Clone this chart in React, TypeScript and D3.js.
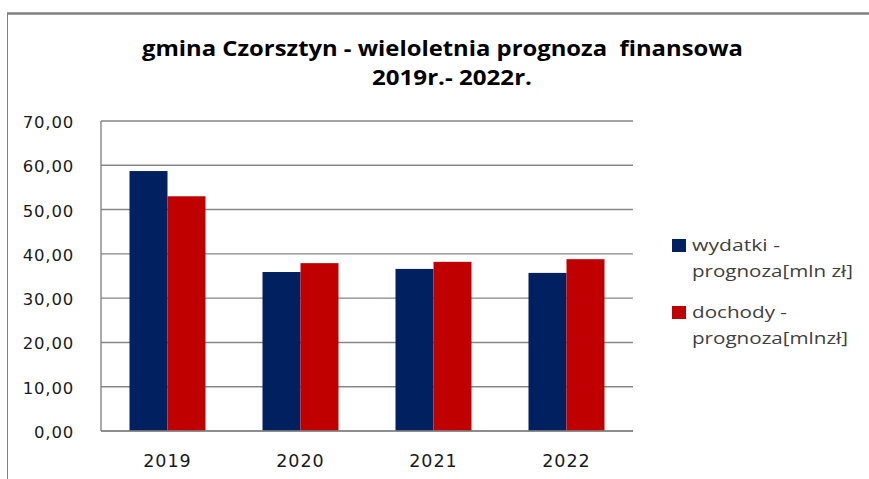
import React from "react";
import * as d3 from "d3";

const categories = ["2019", "2020", "2021", "2022"];
const wydatki = [58.7, 35.9, 36.6, 35.7];
const dochody = [53.0, 37.9, 38.2, 38.8];
const seriesNames = ["wydatki - prognoza[mln zł]", "dochody - prognoza[mlnzł]"];
const legendLines = [["wydatki -", "prognoza[mln zł]"], ["dochody -", "prognoza[mlnzł]"]];
const legendWidths = [[88, 161], [95, 156]];
const yTicks = [0, 10, 20, 30, 40, 50, 60, 70];
const titleLines = ["gmina Czorsztyn - wieloletnia prognoza  finansowa", "2019r.- 2022r."];

const W = 869;
const H = 479;
const colors = ["#002060", "#C00000"];

export default function App() {
  const plot = { left: 101, right: 633, top: 121, bottom: 431 };
  const x = d3.scaleBand<string>().domain(categories).range([plot.left, plot.right]).paddingInner(0.4286).paddingOuter(0.2143);
  const x1 = d3.scaleBand<string>().domain(["0", "1"]).range([0, x.bandwidth()]);
  const y = d3.scaleLinear().domain([0, 70]).range([plot.bottom, plot.top]);
  const fmt = (v: number) => v.toFixed(2).replace(".", ",");
  const series = [wydatki, dochody];
  const titleX = [442.5, 452];
  const titleW = [601, 160];

  return (
    <svg width={W} height={H} style={{ position: "absolute", left: 0, top: 0, background: "#fff" }}>
      <rect x={0} y={0} width={W} height={H} fill="#fff" />
      {/* chart frame */}
      <line x1={7} x2={W} y1={13.5} y2={13.5} stroke="#808080" strokeWidth={2.5} />
      <line x1={7.5} x2={7.5} y1={13} y2={H} stroke="#808080" strokeWidth={1} />
      {/* title */}
      {titleLines.map((t, i) => (
        <text key={i} x={titleX[i]} y={56 + i * 29} textAnchor="middle" fontFamily="'Open Sans', Lato, sans-serif" fontWeight="bold" fontSize={21} fill="#000" textLength={titleW[i]} lengthAdjust="spacingAndGlyphs" style={{ whiteSpace: "pre" }}>
          {t}
        </text>
      ))}
      {/* gridlines */}
      {yTicks.map((t) => (
        <line key={t} x1={plot.left} x2={plot.right} y1={y(t)} y2={y(t)} stroke="#868686" strokeWidth={1.4} />
      ))}
      <line x1={plot.left} x2={plot.left} y1={plot.top} y2={plot.bottom} stroke="#868686" strokeWidth={1.4} />
      {/* bars */}
      {categories.map((c, i) => (
        <g key={c} transform={`translate(${x(c)},0)`}>
          {series.map((s, j) => (
            <rect key={j} x={x1(String(j))} y={y(s[i])} width={x1.bandwidth()} height={y(0) - y(s[i])} fill={colors[j]} />
          ))}
        </g>
      ))}
      {/* axis baseline */}
      <line x1={plot.left} x2={plot.right} y1={y(0)} y2={y(0)} stroke="#868686" strokeWidth={1.4} />
      {/* y tick labels */}
      {yTicks.map((t) => (
        <text key={t} x={74} y={y(t) + 7} textAnchor="end" fontFamily="'DejaVu Sans', Verdana, sans-serif" fontSize={16.5} letterSpacing={0.8} fill="#1a1a1a">
          {fmt(t)}
        </text>
      ))}
      {/* x labels */}
      {categories.map((c) => (
        <text key={c} x={(x(c) as number) + x.bandwidth() / 2} y={467} textAnchor="middle" fontFamily="'DejaVu Sans', Verdana, sans-serif" fontSize={17.5} letterSpacing={1} fill="#1a1a1a">
          {c}
        </text>
      ))}
      {/* legend */}
      {legendLines.map((lines, j) => (
        <g key={j} transform={`translate(672, ${239 + j * 67})`}>
          <rect x={0} y={0} width={14} height={13} fill={colors[j]} />
          <title>{seriesNames[j]}</title>
          {lines.map((l, k) => (
            <text key={k} x={20} y={12 + k * 26} fontFamily="'Open Sans', Lato, sans-serif" fontSize={17} fill="#404040" textLength={legendWidths[j][k]} lengthAdjust="spacingAndGlyphs">
              {l}
            </text>
          ))}
        </g>
      ))}
    </svg>
  );
}
